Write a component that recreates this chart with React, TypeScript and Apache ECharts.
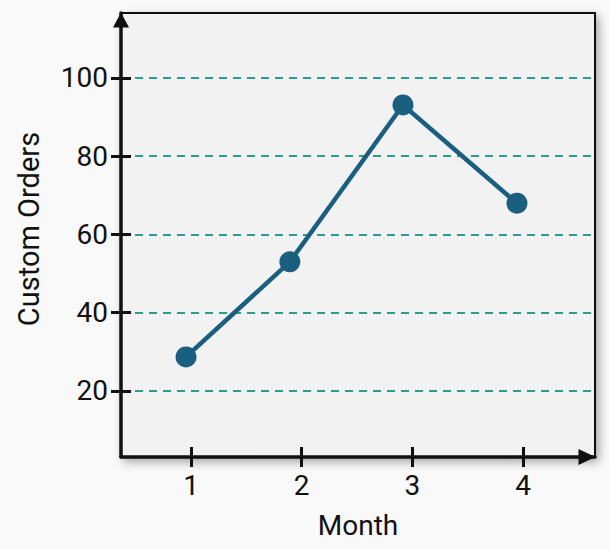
import React, { useEffect, useRef } from "react";
import * as echarts from "echarts";

const monthPositions = [0.955, 1.893, 2.915, 3.945];
const customOrders = [28.7, 53.0, 93.1, 68.0];
const xTickValues = [1, 2, 3, 4];
const yTickValues = [20, 40, 60, 80, 100];
const xTitle = "Month";
const yTitle = "Custom Orders";

export default function App() {
  const ref = useRef<HTMLDivElement>(null);
  useEffect(() => {
    document.body.style.margin = "0";
    document.body.style.background = "#f9f9f9";
    const chart = echarts.init(ref.current!, null, { renderer: "svg" });
    const axisColor = "#111111";
    const font = "Roboto";
    const yMin = 3.13;
    const yMax = 116.6;
    const xMin = 0.3675;
    const xMax = 4.65;
    chart.setOption({
      animation: false,
      backgroundColor: "#f9f9f9",
      grid: {
        left: 121,
        top: 13,
        width: 474,
        height: 444,
        show: true,
        backgroundColor: "#f2f2f2",
        borderColor: axisColor,
        borderWidth: 2,
        shadowBlur: 10,
        shadowColor: "rgba(0,0,0,0.35)",
        shadowOffsetX: 3,
        shadowOffsetY: 4,
      },
      xAxis: [
        {
          type: "value",
          min: xMin,
          max: xMax,
          name: xTitle,
          nameLocation: "middle",
          nameGap: 54,
          nameTextStyle: { fontFamily: font, fontSize: 28, color: axisColor },
          axisLine: {
            show: true,
            lineStyle: { color: axisColor, width: 3.5 },
            symbol: ["none", "triangle"],
            symbolSize: [16, 17],
            symbolOffset: [0, -8],
          },
          axisTick: {
            show: true,
            customValues: xTickValues,
            length: 10,
            lineStyle: { color: axisColor, width: 3 },
          },
          axisLabel: {
            customValues: xTickValues,
            margin: 14,
            fontFamily: font,
            fontSize: 28,
            color: axisColor,
          },
          splitLine: { show: false },
        },
        {
          type: "value",
          min: xMin,
          max: xMax,
          position: "bottom",
          axisLine: { show: false },
          axisTick: {
            show: true,
            inside: true,
            customValues: xTickValues,
            length: 10,
            lineStyle: { color: axisColor, width: 3 },
          },
          axisLabel: { show: false },
          splitLine: { show: false },
        },
      ],
      yAxis: [
        {
          type: "value",
          min: yMin,
          max: yMax,
          name: yTitle,
          nameLocation: "middle",
          nameGap: 78,
          nameTextStyle: { fontFamily: font, fontSize: 29, color: axisColor, padding: [0, 0, 0, 12] },
          axisLine: {
            show: true,
            lineStyle: { color: axisColor, width: 3.5 },
            symbol: ["none", "triangle"],
            symbolSize: [16, 15],
            symbolOffset: [0, -7],
          },
          axisTick: {
            show: true,
            customValues: yTickValues,
            length: 10,
            lineStyle: { color: axisColor, width: 3 },
          },
          axisLabel: {
            customValues: yTickValues,
            margin: 13,
            fontFamily: font,
            fontSize: 28,
            color: axisColor,
          },
          splitLine: {
            show: true,
            lineStyle: { color: "#2a9d8f", width: 2, type: [8, 6] },
          },
        },
        {
          type: "value",
          min: yMin,
          max: yMax,
          position: "left",
          axisLine: { show: false },
          axisTick: {
            show: true,
            inside: true,
            customValues: yTickValues,
            length: 10,
            lineStyle: { color: axisColor, width: 3 },
          },
          axisLabel: { show: false },
          splitLine: { show: false },
        },
      ],
      series: [
        {
          type: "line",
          xAxisIndex: 0,
          yAxisIndex: 0,
          data: monthPositions.map((m, i) => [m, customOrders[i]]),
          symbol: "circle",
          symbolSize: 21,
          lineStyle: { color: "#1a5e80", width: 4.5 },
          itemStyle: { color: "#1a5e80" },
          z: 5,
        },
      ],
    });
    return () => chart.dispose();
  }, []);
  return <div ref={ref} style={{ width: 609, height: 549 }} />;
}
